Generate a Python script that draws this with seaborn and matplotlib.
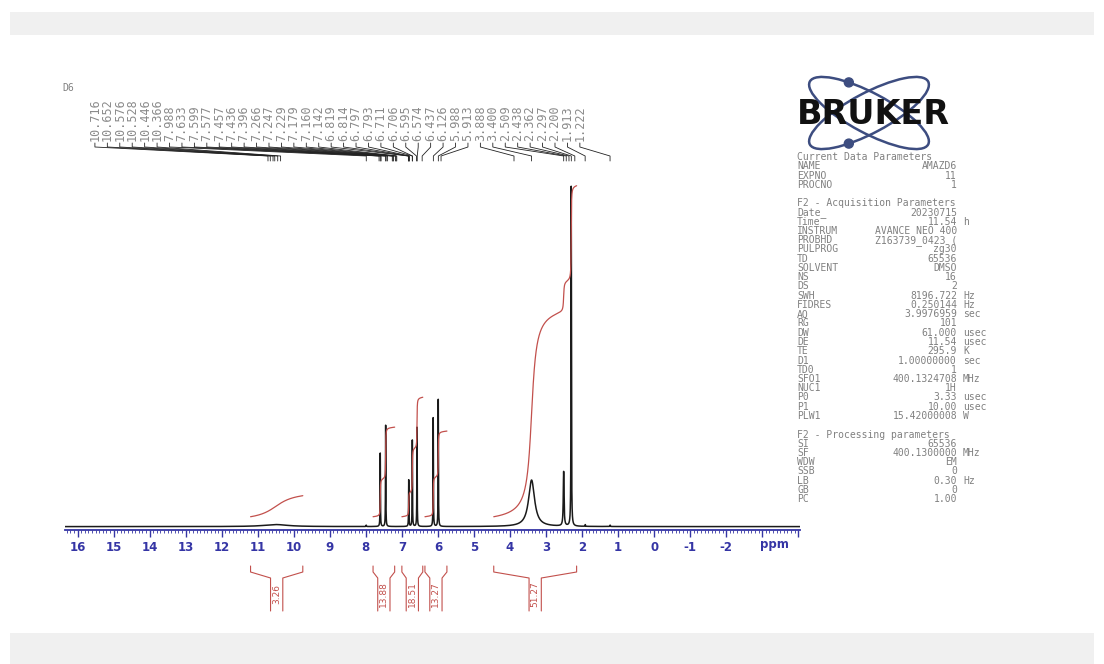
import numpy as np
import pandas as pd
import matplotlib
matplotlib.use("Agg")
import matplotlib.pyplot as plt
import matplotlib.transforms as mtransforms
from matplotlib.patches import Ellipse, Circle, Rectangle
from matplotlib.ticker import MultipleLocator
import seaborn as sns

# ----------------------------- data -----------------------------
peak_ppm    = [10.50, 7.99, 7.60, 7.45, 6.81, 6.71, 6.58, 6.13, 5.99, 3.40, 2.51, 2.30, 1.91, 1.22]
peak_height = [0.006, 0.004, 0.216, 0.298, 0.137, 0.254, 0.292, 0.320, 0.374, 0.137, 0.160, 1.000, 0.005, 0.004]
peak_width  = [0.40, 0.006, 0.005, 0.005, 0.005, 0.005, 0.005, 0.005, 0.005, 0.100, 0.012, 0.006, 0.006, 0.006]

peak_labels = ["10.716", "10.652", "10.576", "10.528", "10.446", "10.366",
               "7.988", "7.633", "7.599", "7.577", "7.457", "7.436", "7.396",
               "7.266", "7.247", "7.229", "7.179", "7.160", "7.142",
               "6.819", "6.814", "6.797", "6.793", "6.711", "6.706",
               "6.595", "6.574", "6.437", "6.126", "5.988", "5.913",
               "3.888", "3.400", "2.509", "2.438", "2.362", "2.297",
               "2.200", "1.913", "1.222"]

integral_from  = [11.20, 7.80, 7.00, 6.36, 4.45]
integral_to    = [9.75, 7.20, 6.42, 5.75, 2.15]
integral_value = [3.26, 13.88, 18.51, 13.27, 51.27]

tick_values = list(range(16, -5, -1))
tick_labels = [str(v) for v in range(16, -3, -1)] + ["", ""]

param_names = ["Current Data Parameters", "NAME", "EXPNO", "PROCNO", "",
               "F2 - Acquisition Parameters", "Date_", "Time", "INSTRUM", "PROBHD",
               "PULPROG", "TD", "SOLVENT", "NS", "DS", "SWH", "FIDRES", "AQ", "RG",
               "DW", "DE", "TE", "D1", "TD0", "SFO1", "NUC1", "P0", "P1", "PLW1", "",
               "F2 - Processing parameters", "SI", "SF", "WDW", "SSB", "LB", "GB", "PC"]
param_values = ["", "AMAZD6", "11", "1", "",
                "", "20230715", "11.54", "AVANCE NEO 400", "Z163739_0423 (",
                "zg30", "65536", "DMSO", "16", "2", "8196.722", "0.250144", "3.9976959", "101",
                "61.000", "11.54", "295.9", "1.00000000", "1", "400.1324708", "1H", "3.33", "10.00",
                "15.42000008", "",
                "", "65536", "400.1300000", "EM", "0", "0.30", "0", "1.00"]
param_units = ["", "", "", "", "",
               "", "", "h", "", "",
               "", "", "", "", "", "Hz", "Hz", "sec", "",
               "usec", "usec", "K", "sec", "", "MHz", "", "usec", "usec", "W", "",
               "", "", "MHz", "", "", "Hz", "", ""]
assert len(param_names) == len(param_values) == len(param_units)

# ----------------------------- styles -----------------------------
W, H = 1104, 664
RED = "#c2504c"
BLUE = "#3535a5"
GRAY = "#808080"
LOGO_BLUE = "#3d4d80"
INT_SCALE = 0.019
INT_OFFSET = 0.029

sns.set_theme(style="white")
plt.rcParams["font.family"] = ["DejaVu Sans"]

fig = plt.figure(figsize=(W / 100, H / 100), dpi=100)
fig.patch.set_facecolor("white")


def fx(px):
    return px / W


def fy(px):
    return 1 - px / H


fig.add_artist(Rectangle((fx(10), fy(35)), fx(1084), 23 / H, transform=fig.transFigure,
                         facecolor="#f0f0f0", edgecolor="none", zorder=0))
fig.add_artist(Rectangle((fx(10), 0), fx(1084), fy(633), transform=fig.transFigure,
                         facecolor="#f0f0f0", edgecolor="none", zorder=0))

ax = fig.add_axes([fx(65), fy(530), fx(735), 350 / H])
ax.set_facecolor("none")

# spectrum
ppm = np.linspace(16.35, -4.05, 40801)
spec = np.zeros_like(ppm)
for p, h, w in zip(peak_ppm, peak_height, peak_width):
    spec += h / (1 + ((ppm - p) / w) ** 2)
spec_df = pd.DataFrame({"ppm": ppm, "intensity": spec})
sns.lineplot(data=spec_df, x="ppm", y="intensity", ax=ax, color="#1a1a1a", lw=1.1,
             estimator=None, sort=False)

# integrals
frames = []
for k, (a, b, v) in enumerate(zip(integral_from, integral_to, integral_value)):
    m = (ppm <= a) & (ppm >= b)
    cum = np.cumsum(spec[m])
    cum = cum / cum[-1]
    frames.append(pd.DataFrame({"ppm": ppm[m], "level": INT_OFFSET + cum * v * INT_SCALE,
                                "region": k}))
int_df = pd.concat(frames, ignore_index=True)
sns.lineplot(data=int_df, x="ppm", y="level", units="region", estimator=None, sort=False,
             color=RED, lw=0.9, ax=ax)

trans = mtransforms.blended_transform_factory(ax.transData, fig.transFigure)

# peak labels at top
label_x = np.linspace(15.52, 2.06, len(peak_labels))
for lx, s in zip(label_x, peak_labels):
    pv = float(s)
    ax.plot([lx, lx, pv, pv], [fy(143), fy(147), fy(156), fy(161)], transform=trans,
            clip_on=False, color="#222222", lw=0.6)
    ax.text(lx, fy(141), s, transform=trans, rotation=90, ha="center", va="bottom",
            fontsize=8.5, color="#8a8a8a", family="DejaVu Sans Mono")

# integral brackets below axis
for a, b, v in zip(integral_from, integral_to, integral_value):
    c = (a + b) / 2
    hb = 0.17
    ax.plot([a, a, c + hb, c + hb], [fy(566), fy(572), fy(578), fy(611)], transform=trans,
            clip_on=False, color=RED, lw=0.8)
    ax.plot([b, b, c - hb, c - hb], [fy(566), fy(572), fy(578), fy(611)], transform=trans,
            clip_on=False, color=RED, lw=0.8)
    ax.text(c, fy(594), f"{v:.2f}", transform=trans, rotation=90, ha="center", va="center",
            fontsize=6.5, color=RED)

ax.set_xlim(16.35, -4.05)
ax.set_ylim(-0.01, 1.02)
ax.set_xlabel("")
ax.set_ylabel("")
ax.set_yticks([])
for s in ["top", "left", "right"]:
    ax.spines[s].set_visible(False)
ax.spines["bottom"].set_color(BLUE)
ax.spines["bottom"].set_linewidth(1.3)
ax.set_xticks(tick_values, labels=tick_labels, fontweight="bold", color=BLUE)
ax.xaxis.set_minor_locator(MultipleLocator(0.1))
ax.tick_params(axis="x", which="major", direction="out", length=5, width=1, colors=BLUE,
               labelsize=8.5, pad=3, bottom=True)
ax.tick_params(axis="x", which="minor", direction="out", length=2.5, width=0.6,
               color=BLUE, bottom=True)
ax.text(-3.35, fy(538), "ppm", transform=trans, ha="center", va="top", fontsize=8.5,
        fontweight="bold", color=BLUE)

fig.text(fx(62), fy(88), "D6", fontsize=7, color=GRAY, va="center", family="DejaVu Sans Mono")

# parameter block
for i, (n, v, u) in enumerate(zip(param_names, param_values, param_units)):
    y = fy(157 + i * 9.25)
    if n:
        fig.text(fx(797), y, n, fontsize=7, color=GRAY, va="center", ha="left",
                 family="DejaVu Sans Mono")
    if v:
        fig.text(fx(957), y, v, fontsize=7, color=GRAY, va="center", ha="right",
                 family="DejaVu Sans Mono")
    if u:
        fig.text(fx(963), y, u, fontsize=7, color=GRAY, va="center", ha="left",
                 family="DejaVu Sans Mono")

# logo
lax = fig.add_axes([fx(790), fy(152), fx(175), 77 / H])
lax.set_xlim(790, 965)
lax.set_ylim(152, 75)
lax.axis("off")
cx, cy, A, B = 869, 113, 67, 20
for ang, t in [(28, -118.7), (-28, 118.7)]:
    lax.add_patch(Ellipse((cx, cy), 2 * A, 2 * B, angle=ang, fill=False,
                          edgecolor=LOGO_BLUE, lw=1.8))
    th, tt = np.radians(ang), np.radians(t)
    px = cx + A * np.cos(tt) * np.cos(th) - B * np.sin(tt) * np.sin(th)
    py = cy + A * np.cos(tt) * np.sin(th) + B * np.sin(tt) * np.cos(th)
    lax.add_patch(Circle((px, py), 4.5, color=LOGO_BLUE, zorder=4))
lax.text(873, 114, "BRUKER", ha="center", va="center", fontsize=24, fontweight="heavy",
         color="#111111", zorder=5)

fig.savefig("out.png", dpi=100, facecolor="white")
